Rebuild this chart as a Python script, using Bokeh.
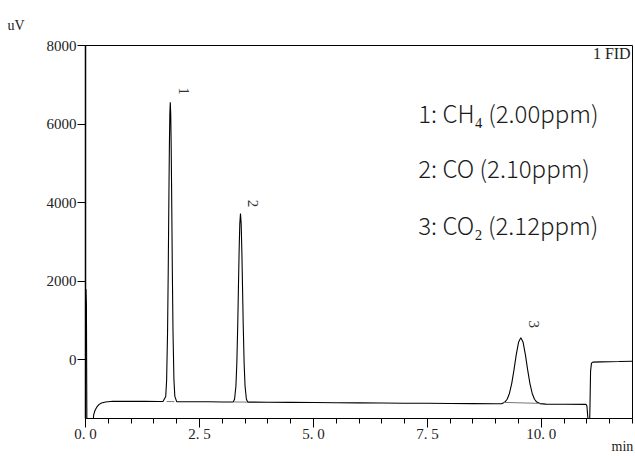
from bokeh.plotting import figure
from bokeh.models import Range1d, FixedTicker, Label, LinearAxis, Title
from bokeh.core.properties import value
from bokeh.embed import file_html
from bokeh.resources import INLINE

# ---- data ----
time_min = [
    0.000, 0.010, 0.020, 0.030, 0.165, 0.180, 0.210, 0.250, 0.300, 0.350, 0.440, 0.600,
    1.00, 1.30, 1.60, 1.70, 1.76, 1.78, 1.80, 1.815, 1.83, 1.84, 1.85, 1.86, 1.87, 1.88,
    1.89, 1.905, 1.92, 1.94, 1.96, 2.00, 2.30, 2.70, 3.00, 3.20, 3.24, 3.27, 3.30, 3.32,
    3.34, 3.355, 3.37, 3.385, 3.40, 3.415, 3.43, 3.445, 3.46, 3.48, 3.50, 3.53, 3.56, 3.60,
    4.0, 4.5, 5.0, 5.5, 6.0, 6.5, 7.0, 7.5, 8.0, 8.5, 9.0, 9.13, 9.20, 9.25, 9.30, 9.35,
    9.40, 9.45, 9.50, 9.55, 9.60, 9.65, 9.70, 9.75, 9.80, 9.85, 9.90, 9.97, 10.1, 10.5,
    10.98, 11.00, 11.015, 11.03, 11.06, 11.07, 11.08, 11.10, 11.13, 11.3, 11.7, 12.0,
]
signal_uv = [
    1750, 1800, 1400, -1600, -1600, -1400, -1290, -1206, -1140, -1105, -1080, -1062,
    -1063, -1065, -1068, -1068, -938, -512, 685, 2263, 4215, 5404, 6250, 6555, 6250, 5404,
    4215, 2263, 685, -512, -938, -1070, -1072, -1075, -1078, -1080, -1078, -1008, -672, -91,
    894, 1835, 2762, 3464, 3723, 3464, 2762, 1835, 894, -91, -672, -1008, -1082, -1083,
    -1086, -1090, -1094, -1098, -1102, -1106, -1110, -1113, -1117, -1121, -1125, -1126, -1082, -1010, -863, -611,
    -260, 128, 440, 560, 440, 128, -260, -611, -863, -1010, -1082, -1120, -1133, -1137,
    -1140, -1180, -1400, -1600, -1600, -1000, -300, -90, -65, -58, -50, -42,
]

# integration baselines under the peaks
base_t0 = [1.78, 3.26, 9.17]
base_v0 = [-1068, -1079, -1090]
base_t1 = [1.95, 3.55, 9.96]
base_v1 = [-1070, -1082, -1115]

peak_ids = ["1", "2", "3"]
peak_label_t = [2.15, 3.68, 9.84]
peak_label_v = [6835, 3977, 898]

legend_lines = ["1: CH\u2084 (2.00ppm)", "2: CO (2.10ppm)", "3: CO\u2082 (2.12ppm)"]
legend_t = [7.30, 7.30, 7.30]
legend_v = [6293, 4893, 3443]

x_major = [0.0, 2.5, 5.0, 7.5, 10.0]
x_major_labels = ["0. 0", "2. 5", "5. 0", "7. 5", "10. 0"]
x_minor = [0.5, 1.0, 1.5, 2.0, 3.0, 3.5, 4.0, 4.5, 5.5, 6.0, 6.5, 7.0, 8.0, 8.5, 9.0,
           9.5, 10.5, 11.0, 11.5, 12.0]
y_major = [0, 2000, 4000, 6000, 8000]
x_unit_pos = [11.78]
x_unit_label = ["min"]
y_unit_label = "uV"
detector_label = "1 FID"

SERIF = "Liberation Serif"

p = figure(width=635, height=456, x_range=Range1d(0, 12), y_range=Range1d(-1500, 8000),
           output_backend="svg", toolbar_location=None,
           min_border_left=85, min_border_right=3, min_border_top=45, min_border_bottom=38)
p.background_fill_color = "white"
p.border_fill_color = "white"
p.outline_line_color = "black"
p.outline_line_width = 1
p.xgrid.visible = False
p.ygrid.visible = False

# trace
p.line(time_min, signal_uv, line_color="black", line_width=1.1)
p.segment(x0=base_t0, y0=base_v0, x1=base_t1, y1=base_v1, line_color="#777777", line_width=1)

# peak numbers (rotated)
p.text(x=peak_label_t, y=peak_label_v, text=peak_ids, angle=-1.5708,
       text_font=value(SERIF), text_font_size="15px", text_color="#333333",
       text_align="center", text_baseline="middle")

# legend lines
p.text(x=legend_t, y=legend_v, text=legend_lines,
       text_font=value("Noto Sans CJK SC Light, Noto Sans CJK SC"), text_font_size="24px",
       text_color="#1a1a1a", text_align="left", text_baseline="middle")

# axes
xa = p.xaxis[0]
xa.ticker = FixedTicker(ticks=x_major, minor_ticks=x_minor)
xa.major_label_overrides = {t: s for t, s in zip(x_major, x_major_labels)}
xa.major_tick_in = 0
xa.major_tick_out = 9
xa.minor_tick_in = 0
xa.minor_tick_out = 5
xa.major_label_standoff = -2
xa.major_label_text_font = SERIF
xa.major_label_text_font_size = "15px"
xa.major_label_text_color = "#222222"
xa.axis_line_color = "black"
xa.axis_line_width = 1.2

# unit label "min" as a tick-less secondary axis below
ua = LinearAxis(ticker=FixedTicker(ticks=x_unit_pos, minor_ticks=[]),
                major_label_overrides={x_unit_pos[0]: x_unit_label[0]},
                axis_line_color=None, major_tick_line_color=None, minor_tick_line_color=None,
                major_tick_in=0, major_tick_out=0, major_label_standoff=-6,
                major_label_text_font=SERIF, major_label_text_font_size="14px",
                major_label_text_color="#222222")
p.add_layout(ua, "below")

ya = p.yaxis[0]
ya.ticker = FixedTicker(ticks=y_major, minor_ticks=[])
ya.major_tick_in = 0
ya.major_tick_out = 8
ya.minor_tick_line_color = None
ya.major_label_standoff = 1
ya.major_label_text_font = SERIF
ya.major_label_text_font_size = "15px"
ya.major_label_text_color = "#222222"
ya.axis_line_color = "black"
ya.axis_line_width = 1.5

# "uV" unit above the y axis
p.add_layout(Title(text=y_unit_label, align="left", offset=-78, standoff=26,
                   text_font=SERIF, text_font_size="14px", text_font_style="normal",
                   text_color="#222222"), "above")

p.add_layout(Label(x=11.96, y=7794, text=detector_label, text_font=SERIF,
                   text_font_size="16px", text_color="#222222",
                   text_baseline="middle", text_align="right"))

open("out.html", "w").write(file_html(p, INLINE))
